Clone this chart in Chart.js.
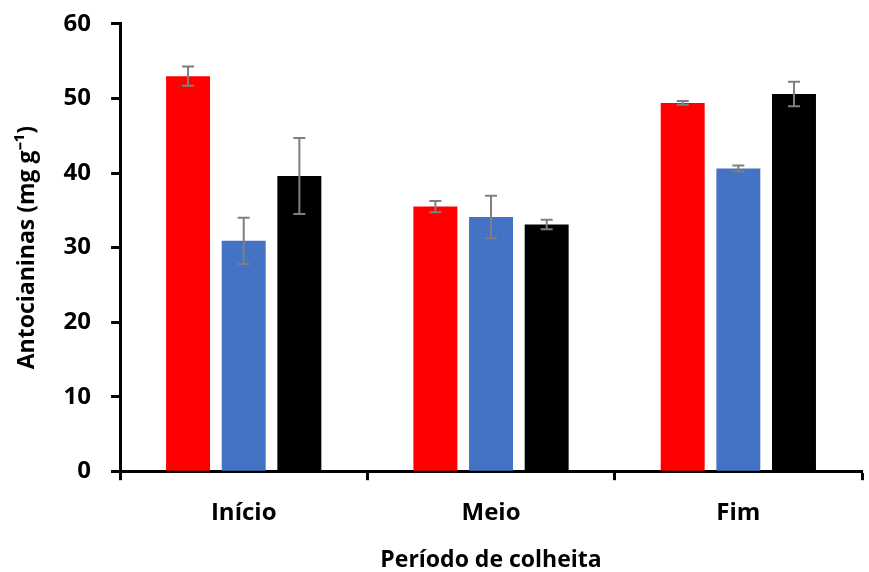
<!DOCTYPE html>
<html>
<head>
<meta charset="utf-8">
<script src="https://cdn.jsdelivr.net/npm/chart.js@4"></script>
<style>
  html, body { margin: 0; padding: 0; background: #fff; }
  #wrap { width: 869px; height: 572px; }
</style>
</head>
<body>
<div id="wrap"><canvas id="antoChart"></canvas></div>
<script>
var categorias = ["Início", "Meio", "Fim"];
var serieVermelha = [53.0, 35.5, 49.4];
var erroVermelha = [1.3, 0.75, 0.25];
var serieAzul = [30.9, 34.1, 40.6];
var erroAzul = [3.1, 2.85, 0.4];
var seriePreta = [39.6, 33.1, 50.6];
var erroPreta = [5.1, 0.65, 1.65];
var yTicks = [0, 10, 20, 30, 40, 50, 60];

var fonte = "'Open Sans', 'Liberation Sans', sans-serif";

// error bars drawn over the bars using the chart's own scales
var errorBars = {
  id: 'errorBars',
  afterDatasetsDraw: function(chart) {
    var ctx = chart.ctx;
    var yScale = chart.scales.y;
    ctx.save();
    ctx.strokeStyle = '#7f7f7f';
    ctx.lineWidth = 2;
    chart.data.datasets.forEach(function(ds, di) {
      var meta = chart.getDatasetMeta(di);
      meta.data.forEach(function(bar, i) {
        var v = ds.data[i], e = ds.erros[i];
        var x = bar.x;
        var yTop = yScale.getPixelForValue(v + e);
        var yBot = yScale.getPixelForValue(v - e);
        ctx.beginPath();
        ctx.moveTo(x, yTop); ctx.lineTo(x, yBot);
        ctx.moveTo(x - 6, yTop); ctx.lineTo(x + 6, yTop);
        ctx.moveTo(x - 6, yBot); ctx.lineTo(x + 6, yBot);
        ctx.stroke();
      });
    });
    ctx.restore();
  }
};

var ctx = document.getElementById('antoChart');
new Chart(ctx, {
  type: 'bar',
  data: {
    labels: categorias,
    datasets: [
      { label: 'A', data: serieVermelha, erros: erroVermelha, backgroundColor: '#ff0000' },
      { label: 'B', data: serieAzul, erros: erroAzul, backgroundColor: '#4472c4' },
      { label: 'C', data: seriePreta, erros: erroPreta, backgroundColor: '#000000' }
    ]
  },
  options: {
    responsive: true,
    maintainAspectRatio: false,
    animation: false,
    categoryPercentage: 0.675,
    barPercentage: 0.79,
    layout: { padding: { top: 0, right: 7, left: 10, bottom: 0 } },
    plugins: {
      legend: { display: false },
      tooltip: { enabled: false }
    },
    scales: {
      x: {
        grid: { display: true, drawOnChartArea: false, color: '#000', tickLength: 9, tickWidth: 3, offset: true },
        border: { display: true, color: '#000', width: 3 },
        ticks: { color: '#000', font: { family: fonte, size: 24, weight: 'bold' }, padding: 19 },
        title: { display: true, text: 'Período de colheita', color: '#000', font: { family: fonte, size: 23, weight: 'bold', lineHeight: 1.0 }, padding: { top: 2, bottom: 0 } }
      },
      y: {
        min: 0,
        max: 60,
        afterBuildTicks: function(axis) { axis.ticks = yTicks.map(function(v) { return { value: v }; }); },
        grid: { display: true, drawOnChartArea: false, color: '#000', tickLength: 9, tickWidth: 3 },
        border: { display: true, color: '#000', width: 3 },
        ticks: { color: '#000', font: { family: fonte, size: 24, weight: 'bold', lineHeight: 0.33 }, padding: 20 },
        title: { display: true, text: 'Antocianinas (mg g⁻¹)', color: '#000', font: { family: fonte, size: 23, weight: 'bold' }, padding: { bottom: 2 } }
      }
    }
  },
  plugins: [errorBars]
});
</script>
</body>
</html>
